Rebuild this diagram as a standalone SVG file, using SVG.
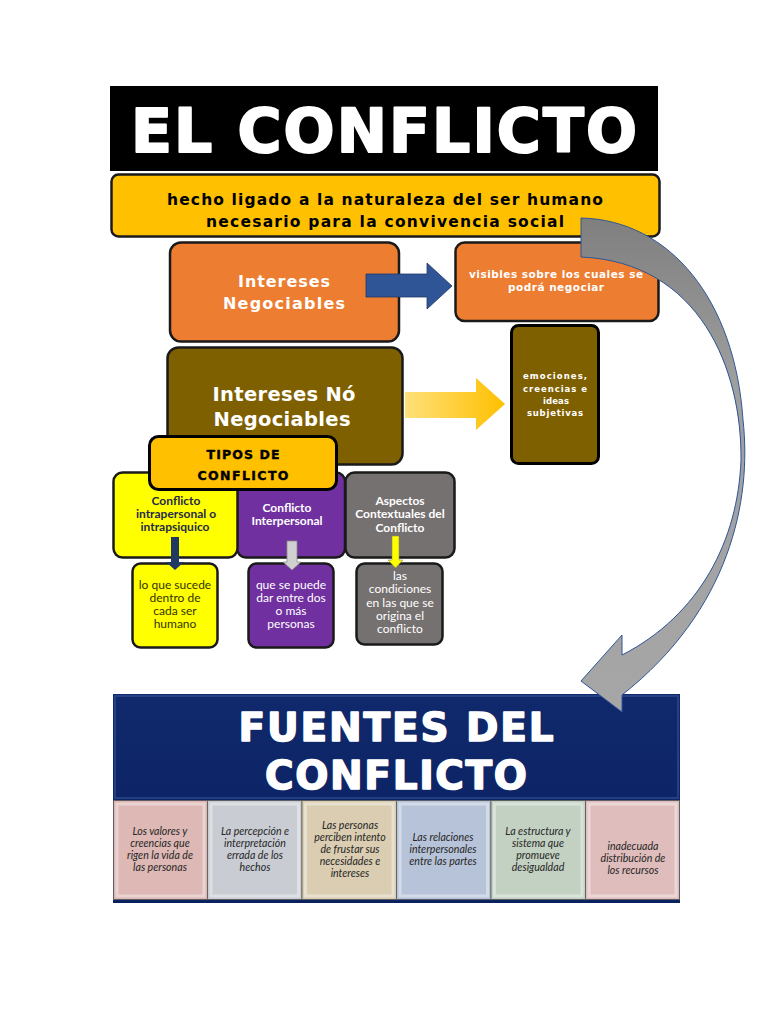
<svg xmlns="http://www.w3.org/2000/svg" width="768" height="1024" viewBox="0 0 768 1024">
<defs>
<linearGradient id="gYel" x1="0" y1="0" x2="1" y2="0">
<stop offset="0" stop-color="#FFE07A"/><stop offset="1" stop-color="#FFC000"/>
</linearGradient>
<linearGradient id="gCurve" x1="0" y1="0" x2="0" y2="1">
<stop offset="0" stop-color="#7F7F7F"/><stop offset="0.35" stop-color="#A0A0A0"/><stop offset="1" stop-color="#A6A6A6"/>
</linearGradient>
<linearGradient id="gNavy" x1="0" y1="0" x2="0" y2="1">
<stop offset="0" stop-color="#10296C"/><stop offset="1" stop-color="#0A2160"/>
</linearGradient>
<style>
.hd{font-family:"DejaVu Sans","Liberation Sans",sans-serif;font-weight:bold;text-anchor:middle}
.thick{stroke-linejoin:round}
.cb{font-family:Lato,"Open Sans","Liberation Sans",sans-serif;font-weight:bold;text-anchor:middle;font-size:12px}
.cr{font-family:Lato,"Open Sans","Liberation Sans",sans-serif;text-anchor:middle;font-size:12px}
.it{font-family:Lato,"Open Sans","Liberation Sans",sans-serif;font-style:italic;text-anchor:middle;font-size:10.6px;fill:#262626}
.w{fill:#FFFFFF}
.k{fill:#000000}
.box{stroke:#1A1A1A;stroke-width:2.5}
.src{stroke:#5a5a5a;stroke-width:0.8}
.bev{fill:none;stroke:#FFFFFF;stroke-opacity:0.4;stroke-width:3}
</style>
</defs>
<rect width="768" height="1024" fill="#FFFFFF"/>

<g id="title">
<rect x="110" y="86" width="548" height="85" fill="#000000"/>
<text class="hd w thick" x="384" y="152" font-size="60" textLength="506" stroke="#FFFFFF" stroke-width="2">EL CONFLICTO</text>
</g>

<g id="definition">
<rect class="box" x="111.5" y="174.5" width="548" height="62" rx="7" fill="#FFC000"/>
<text class="hd k" x="385" y="205" font-size="15.5" textLength="436">hecho ligado a la naturaleza del ser humano</text>
<text class="hd k" x="385" y="227" font-size="15.5" textLength="358">necesario para la convivencia social</text>
</g>

<g id="intereses-negociables">
<rect class="box" x="170" y="242.5" width="229" height="99" rx="11" fill="#ED7D31" stroke="#3a2a1a"/>
<text class="hd w" x="284" y="287" font-size="16" textLength="92">Intereses</text>
<text class="hd w" x="284" y="309" font-size="16" textLength="122">Negociables</text>
</g>

<g id="negociables-desc">
<rect class="box" x="455.5" y="242.5" width="203" height="78.5" rx="9" fill="#ED7D31" stroke="#3a2a1a"/>
<text class="hd w" x="556" y="278" font-size="10.5" textLength="174">visibles sobre los cuales se</text>
<text class="hd w" x="556" y="291" font-size="10.5" textLength="96">podrá negociar</text>
</g>

<g id="intereses-no-negociables">
<rect class="box" x="167.5" y="347.5" width="235" height="117" rx="11" fill="#7F6000"/>
<text class="hd w" x="284" y="401" font-size="19.5" textLength="143">Intereses Nó</text>
<text class="hd w" x="282" y="426" font-size="19.5" textLength="137">Negociables</text>
</g>

<g id="no-negociables-desc">
<rect x="511.5" y="325.5" width="87" height="138" rx="7" fill="#7F6000" stroke="#000000" stroke-width="3"/>
<text class="hd w" x="555" y="379" font-size="8.5" textLength="64">emociones,</text>
<text class="hd w" x="555" y="392" font-size="8.5" textLength="64">creencias e</text>
<text class="hd w" x="556" y="404" font-size="8.5" textLength="26">ideas</text>
<text class="hd w" x="555" y="416" font-size="8.5" textLength="56">subjetivas</text>
</g>

<g id="interpersonal">
<rect class="box" x="237" y="472.5" width="108" height="85" rx="9" fill="#7030A0"/>
<text class="cb w" x="287" y="512">Conflicto</text>
<text class="cb w" x="287" y="525">Interpersonal</text>
</g>

<g id="contextuales">
<rect class="box" x="345.5" y="472.5" width="109" height="85" rx="9" fill="#767171"/>
<text class="cb w" x="400" y="505">Aspectos</text>
<text class="cb w" x="400" y="518">Contextuales del</text>
<text class="cb w" x="400" y="532">Conflicto</text>
</g>

<g id="intrapersonal">
<rect class="box" x="113.5" y="472.5" width="124" height="85" rx="9" fill="#FFFF00"/>
<text class="cb" x="176" y="505" fill="#1F2A4A">Conflicto</text>
<text class="cb" x="176" y="518" fill="#1F2A4A">intrapersonal o</text>
<text class="cb" x="175" y="531" fill="#1F2A4A">intrapsiquico</text>
</g>

<g id="tipos">
<rect x="149.5" y="436.5" width="187" height="53" rx="9" fill="#FFC000" stroke="#000000" stroke-width="3"/>
<text class="hd k" x="243" y="459" font-size="12.5" textLength="73" stroke="#000000" stroke-width="0.4">TIPOS DE</text>
<text class="hd k" x="243" y="480" font-size="12.5" textLength="91" stroke="#000000" stroke-width="0.4">CONFLICTO</text>
</g>

<g id="intrapersonal-desc">
<rect class="box" x="132.5" y="563.5" width="85" height="84" rx="8" fill="#FFFF00"/>
<text class="cr" x="175" y="589" fill="#333300">lo que sucede</text>
<text class="cr" x="175" y="602" fill="#333300">dentro de</text>
<text class="cr" x="175" y="615" fill="#333300">cada ser</text>
<text class="cr" x="175" y="628" fill="#333300">humano</text>
</g>

<g id="interpersonal-desc">
<rect class="box" x="248.5" y="563.5" width="85" height="84" rx="8" fill="#7030A0"/>
<text class="cr w" x="291" y="589">que se puede</text>
<text class="cr w" x="291" y="602">dar entre dos</text>
<text class="cr w" x="291" y="615">o más</text>
<text class="cr w" x="291" y="628">personas</text>
</g>

<g id="contextuales-desc">
<rect class="box" x="356.5" y="563.5" width="86" height="81" rx="8" fill="#767171"/>
<text class="cr w" x="400" y="580">las</text>
<text class="cr w" x="400" y="593">condiciones</text>
<text class="cr w" x="400" y="607">en las que se</text>
<text class="cr w" x="400" y="620">origina el</text>
<text class="cr w" x="400" y="633">conflicto</text>
</g>

<g id="fuentes">
<rect x="113" y="694" width="567" height="209" fill="url(#gNavy)"/>
<rect x="115" y="696" width="563" height="102" fill="none" stroke="#3A5AA0" stroke-opacity="0.5" stroke-width="2"/>
<text class="hd w thick" x="396" y="741" font-size="39" textLength="315" stroke="#FFFFFF" stroke-width="1.5">FUENTES DEL</text>
<text class="hd w thick" x="396" y="789" font-size="39" textLength="262" stroke="#FFFFFF" stroke-width="1.5">CONFLICTO</text>
</g>

<g id="fuente-1">
<rect class="src" x="113.5" y="800.5" width="94" height="99" fill="#DDB8B4"/>
<rect class="bev" x="117" y="804" width="87" height="92"/>
<text class="it" x="160" y="835">Los valores y</text>
<text class="it" x="160" y="847">creencias que</text>
<text class="it" x="160" y="859">rigen la vida de</text>
<text class="it" x="160" y="871">las personas</text>
</g>
<g id="fuente-2">
<rect class="src" x="207.5" y="800.5" width="94.5" height="99" fill="#C9CCD3"/>
<rect class="bev" x="211" y="804" width="87.5" height="92"/>
<text class="it" x="255" y="835">La percepción e</text>
<text class="it" x="255" y="847">interpretación</text>
<text class="it" x="255" y="859">errada de los</text>
<text class="it" x="255" y="871">hechos</text>
</g>
<g id="fuente-3">
<rect class="src" x="302" y="800.5" width="94.5" height="99" fill="#DACDB1"/>
<rect class="bev" x="305.5" y="804" width="87.5" height="92"/>
<text class="it" x="350" y="829">Las  personas</text>
<text class="it" x="350" y="841">perciben intento</text>
<text class="it" x="350" y="853">de frustar sus</text>
<text class="it" x="350" y="865">necesidades e</text>
<text class="it" x="350" y="877">intereses</text>
</g>
<g id="fuente-4">
<rect class="src" x="396.5" y="800.5" width="94.5" height="99" fill="#B7C3D9"/>
<rect class="bev" x="400" y="804" width="87.5" height="92"/>
<text class="it" x="443" y="841">Las relaciones</text>
<text class="it" x="443" y="853">interpersonales</text>
<text class="it" x="443" y="865">entre las partes</text>
</g>
<g id="fuente-5">
<rect class="src" x="491" y="800.5" width="94.5" height="99" fill="#C2D1C1"/>
<rect class="bev" x="494.5" y="804" width="87.5" height="92"/>
<text class="it" x="538" y="835">La estructura y</text>
<text class="it" x="538" y="847">sistema que</text>
<text class="it" x="538" y="859">promueve</text>
<text class="it" x="538" y="871">desigualdad</text>
</g>
<g id="fuente-6">
<rect class="src" x="585.5" y="800.5" width="94" height="99" fill="#DFBDBC"/>
<rect class="bev" x="589" y="804" width="87" height="92"/>
<text class="it" x="633" y="850">inadecuada</text>
<text class="it" x="633" y="862">distribución de</text>
<text class="it" x="633" y="874">los recursos</text>
</g>

<g id="connectors">
<path d="M366,274 H427 V263 L452,286 L427,309 V297 H366 Z" fill="#2F5597" stroke="#1F3864" stroke-width="0.8"/>
<path d="M405,392 H476 V378 L505,404 L476,430 V418 H405 Z" fill="url(#gYel)"/>
<path d="M171,537 H179 V562 H184 L175,570 L166,562 H171 Z" fill="#1F3864"/>
<path d="M287,541 H297 V562 H301 L292,570 L283,562 H287 Z" fill="#D0D0D0" stroke="#8A8A8A" stroke-width="0.8"/>
<path d="M392,536 H399 V560 H403 L395.5,568 L388,560 H392 Z" fill="#FFFF00" stroke="#8A8A50" stroke-width="0.6"/>
<path d="M581,218 C670,220 735,300 743,420 C752,500 730,610 622,695 L622,712 L581,681 L622,635 L622,655 C700,615 738,540 741,460 C742,370 700,262 581,257 Z" fill="url(#gCurve)" stroke="#2F5597" stroke-width="1"/>
</g>
</svg>
